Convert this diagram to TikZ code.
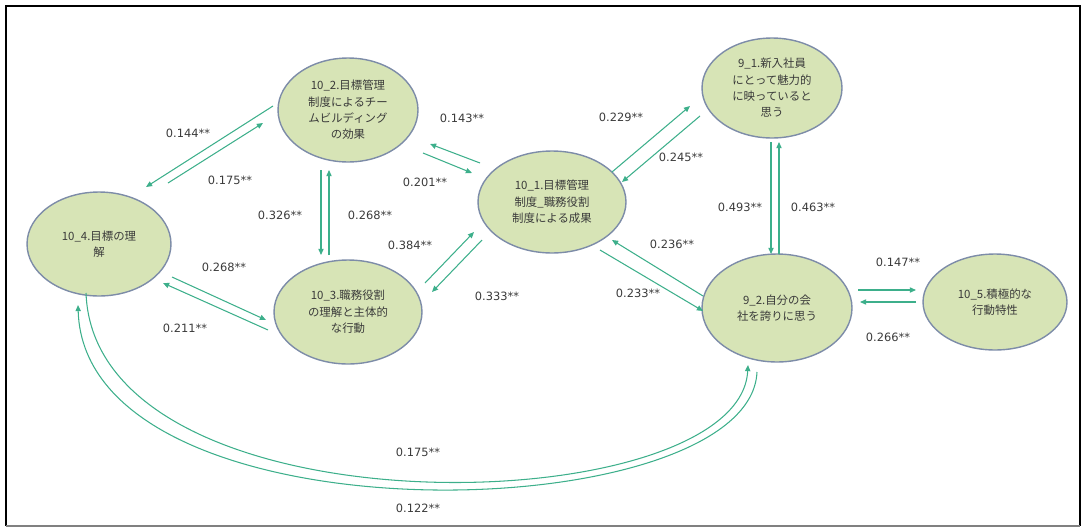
\documentclass[tikz,border=0pt]{standalone}
\usepackage{fontspec}
\newfontfamily\jp{Noto Sans CJK JP}
\newfontfamily\lab{DejaVu Sans}
\usetikzlibrary{shapes.geometric,arrows.meta,calc}
\definecolor{ellfill}{HTML}{D7E4B6}
\definecolor{ellborder}{HTML}{7D8CA8}
\definecolor{arrcol}{HTML}{3DAF8B}
\definecolor{txtcol}{HTML}{3A3A3A}
\begin{document}
\begin{tikzpicture}[x=0.02cm,y=-0.02cm,
  ell/.style={ellipse,draw=ellborder,fill=ellfill,line width=0.8pt,inner sep=0pt,
    font=\jp\fontsize{6.5}{9.3}\selectfont,align=center,text=txtcol},
  arr/.style={draw=arrcol,line width=0.6pt,-{Triangle[length=3.5pt,width=3pt]}},
  lbl/.style={font=\lab\fontsize{6.5}{8}\selectfont,text=txtcol,inner sep=0pt}]
\useasboundingbox (0,0) rectangle (1082,528);
\draw[black,line width=1.2pt] (6,526) -- (6,6) -- (1080,6) -- (1080,526);
\draw[gray,line width=0.8pt] (6,526) -- (1080,526);
% nodes
\node[ell,minimum width=2.8cm,minimum height=2.08cm] (A) at (348,110) {10\_2.目標管理\\制度によるチー\\ムビルディング\\の効果};
\node[ell,minimum width=2.8cm,minimum height=2.0cm] (B) at (772,88) {9\_1.新入社員\\にとって魅力的\\に映っていると\\思う};
\node[ell,minimum width=2.96cm,minimum height=2.04cm] (C) at (552,202) {10\_1.目標管理\\制度\_職務役割\\制度による成果};
\node[ell,minimum width=2.88cm,minimum height=2.08cm] (D) at (99,244) {10\_4.目標の理\\解};
\node[ell,minimum width=2.96cm,minimum height=2.08cm] (E) at (348,312) {10\_3.職務役割\\の理解と主体的\\な行動};
\node[ell,minimum width=3.0cm,minimum height=2.16cm] (F) at (777,308) {9\_2.自分の会\\社を誇りに思う};
\node[ell,minimum width=2.88cm,minimum height=1.92cm] (G) at (995,302) {10\_5.積極的な\\行動特性};
% arrows
\draw[arr] ($(A)+(-75,-4)$) -- ($(D)+(47,-57)$);
\draw[arr] ($(D)+(69,-61)$) -- ($(A)+(-85,13)$);
\draw[arr] ($(C)+(-72,-39)$) -- ($(A)+(82,34)$);
\draw[arr] ($(A)+(75,43)$) -- ($(C)+(-80,-29)$);
\draw[arr] ($(A)+(-27,60)$) -- ($(E)+(-27,-57)$);
\draw[arr] ($(E)+(-19,-57)$) -- ($(A)+(-19,60)$);
\draw[arr] ($(D)+(73,33)$) -- ($(E)+(-82,8)$);
\draw[arr] ($(E)+(-80,18)$) -- ($(D)+(64,39)$);
\draw[arr] ($(E)+(77,-29)$) -- ($(C)+(-78,30)$);
\draw[arr] ($(C)+(-70,38)$) -- ($(E)+(84,-20)$);
\draw[arr] ($(C)+(60,-30)$) -- ($(B)+(-82,18)$);
\draw[arr] ($(B)+(-72,28)$) -- ($(C)+(70,-20)$);
\draw[arr] ($(B)+(-1,54)$) -- ($(F)+(-6,-54)$);
\draw[arr] ($(F)+(2,-54)$) -- ($(B)+(7,54)$);
\draw[arr] ($(F)+(-74,-12)$) -- ($(C)+(60,38)$);
\draw[arr] ($(C)+(48,48)$) -- ($(F)+(-74,3)$);
\draw[arr] ($(F)+(81,-18)$) -- ($(G)+(-79,-12)$);
\draw[arr] ($(G)+(-79,0)$) -- ($(F)+(83,-6)$);
\draw[arr] ($(D)+(-13,49)$) .. controls (95,540) and (740,523) .. ($(F)+(-29,57)$);
\draw[arr] ($(F)+(-20,64)$) .. controls (750,530) and (85,548) .. ($(D)+(-21,61)$);
% labels
\node[lbl] (l1) at (188,133) {0.144**};
\node[lbl] (l2) at (230,180) {0.175**};
\node[lbl] (l3) at (462,118) {0.143**};
\node[lbl] (l4) at (425,182) {0.201**};
\node[lbl] (l5) at (280,215) {0.326**};
\node[lbl] (l6) at (370,215) {0.268**};
\node[lbl] (l7) at (224,267) {0.268**};
\node[lbl] (l8) at (185,328) {0.211**};
\node[lbl] (l9) at (410,245) {0.384**};
\node[lbl] (l10) at (497,296) {0.333**};
\node[lbl] (l11) at (621,117) {0.229**};
\node[lbl] (l12) at (681,157) {0.245**};
\node[lbl] (l13) at (740,207) {0.493**};
\node[lbl] (l14) at (813,207) {0.463**};
\node[lbl] (l15) at (672,244) {0.236**};
\node[lbl] (l16) at (638,293) {0.233**};
\node[lbl] (l17) at (898,262) {0.147**};
\node[lbl] (l18) at (888,337) {0.266**};
\node[lbl] (l19) at (418,452) {0.175**};
\node[lbl] (l20) at (418,508) {0.122**};
\end{tikzpicture}
\end{document}
